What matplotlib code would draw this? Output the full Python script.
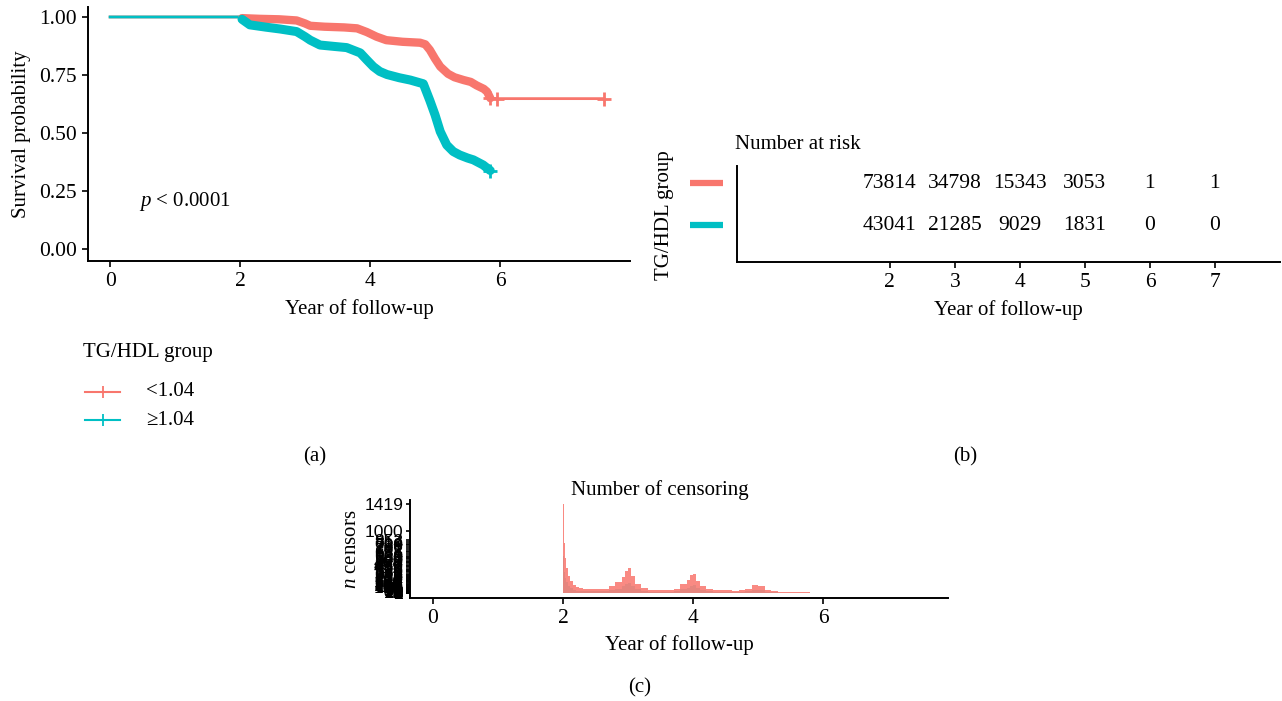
"""
Kaplan-Meier curves by TG/HDL group, number-at-risk table and censoring plot
"""
import numpy as np
import matplotlib
matplotlib.use("Agg")
import matplotlib.pyplot as plt
from matplotlib.lines import Line2D
import matplotlib.transforms as mtransforms

plt.rcParams['font.family'] = ['Liberation Serif', 'DejaVu Serif']
plt.rcParams['mathtext.fontset'] = 'custom'
plt.rcParams['mathtext.rm'] = 'Liberation Serif'
plt.rcParams['mathtext.it'] = 'Liberation Serif:italic'

RED = '#F8766D'
TEAL = '#00BFC4'
FS = 15      # text
FN = 15.5    # numbers

# survival curves
time_red = [0, 2.0, 2.03, 2.3, 2.6, 2.87, 3.0, 3.08, 3.3, 3.6, 3.8, 3.95, 4.1, 4.25, 4.5, 4.77, 4.85, 4.92, 5.0, 5.08, 5.2, 5.3, 5.44, 5.55, 5.64, 5.75, 5.8, 5.85, 5.95, 7.6]
surv_red = [1.0, 1.0, 0.995, 0.992, 0.99, 0.985, 0.972, 0.962, 0.958, 0.955, 0.951, 0.935, 0.915, 0.9, 0.893, 0.889, 0.882, 0.858, 0.82, 0.786, 0.755, 0.74, 0.728, 0.72, 0.705, 0.69, 0.678, 0.65, 0.648, 0.648]
time_teal = [0, 2.0, 2.03, 2.15, 2.4, 2.62, 2.87, 3.0, 3.08, 3.23, 3.45, 3.64, 3.85, 3.95, 4.05, 4.15, 4.26, 4.45, 4.62, 4.82, 4.92, 5.0, 5.08, 5.18, 5.28, 5.38, 5.5, 5.59, 5.74, 5.85]
surv_teal = [1.0, 1.0, 0.99, 0.966, 0.956, 0.948, 0.937, 0.915, 0.9, 0.879, 0.873, 0.868, 0.845, 0.815, 0.786, 0.765, 0.752, 0.738, 0.728, 0.712, 0.64, 0.578, 0.506, 0.448, 0.42, 0.405, 0.392, 0.384, 0.362, 0.338]
red_last_marks_t = [5.85, 5.95, 7.6]
red_last_marks_s = [0.652, 0.648, 0.648]

# number at risk
risk_times = [2, 3, 4, 5, 6, 7]
risk_red = [73814, 34798, 15343, 3053, 1, 1]
risk_teal = [43041, 21285, 9029, 1831, 0, 0]

# censoring counts per time bin
cens_edges = [2.00, 2.01, 2.02, 2.03, 2.05, 2.07, 2.10, 2.15, 2.20, 2.25, 2.30, 2.40, 2.50,
              2.60, 2.70, 2.80, 2.90, 2.95, 3.00, 3.05, 3.10, 3.20, 3.30, 3.40, 3.50, 3.60,
              3.70, 3.80, 3.90, 3.95, 4.00, 4.05, 4.10, 4.20, 4.30, 4.40, 4.50, 4.60, 4.70,
              4.80, 4.90, 5.00, 5.10, 5.20, 5.30, 5.40, 5.50, 5.60, 5.70, 5.80, 5.90]
cens_red = [1419, 1000, 800, 560, 400, 280, 190, 130, 95, 80, 68, 62, 60,
            70, 110, 170, 260, 360, 400, 270, 140, 80, 55, 45, 45, 50,
            70, 140, 210, 290, 310, 200, 120, 70, 50, 45, 45, 40, 45,
            70, 125, 115, 50, 25, 18, 15, 14, 12, 10, 8]
cens_teal = [600, 420, 330, 240, 170, 120, 80, 55, 40, 34, 29, 26, 25,
             30, 46, 72, 110, 150, 165, 110, 60, 34, 23, 19, 19, 21,
             30, 60, 85, 120, 128, 85, 51, 30, 21, 19, 19, 17, 19,
             30, 51, 49, 21, 11, 8, 7, 6, 6, 5, 4]
# y tick values shown on the censoring axis (overlapping in the original)
cens_ticks = [1419, 1000, 852, 814, 790, 768, 731, 702, 671, 655, 624, 600, 583, 560,
              541, 520, 498, 476, 455, 430, 412, 391, 372, 350, 331, 312, 296, 280,
              262, 247, 230, 214, 199, 186, 172, 160, 148, 136, 125, 114, 104, 95,
              86, 78, 70, 62, 55, 48, 42, 36, 31, 26, 22, 18, 15, 12, 9, 7, 5, 3, 2, 1]

fig = plt.figure(figsize=(12.82, 7.01), dpi=100)
W, H = 1282, 701


def box(l, t, r, b):
    return [l / W, 1 - b / H, (r - l) / W, (b - t) / H]


def fx(px):
    return px / W


def fy(py):
    return 1 - py / H


def style(ax):
    for s in ['top', 'right']:
        ax.spines[s].set_visible(False)
    for s in ['left', 'bottom']:
        ax.spines[s].set_linewidth(1.4)
    ax.tick_params(width=1.2, length=4, labelsize=FN, pad=4)


# (a) survival curves
ax1 = fig.add_axes(box(88, 7, 630, 261))
style(ax1)
ax1.plot(time_red, surv_red, color=RED, lw=2)
ax1.plot(time_teal, surv_teal, color=TEAL, lw=2)
ax1.plot(time_red[2:-2], surv_red[2:-2], color=RED, lw=6, solid_capstyle='round')
ax1.plot(time_teal[2:], surv_teal[2:], color=TEAL, lw=6.5, solid_capstyle='round')
ax1.plot(red_last_marks_t, red_last_marks_s, ls='none', marker='+', ms=10, mew=2, color=RED)
ax1.plot([time_teal[-1]], [surv_teal[-1]], ls='none', marker='+', ms=10, mew=2, color=TEAL)
ax1.set_xlim(-0.34, 8.0)
ax1.set_ylim(-0.052, 1.043)
ax1.set_xticks([0, 2, 4, 6])
ax1.set_yticks([0, 0.25, 0.5, 0.75, 1.0])
ax1.set_yticklabels(['0.00', '0.25', '0.50', '0.75', '1.00'])
ax1.set_xlabel('Year of follow-up', fontsize=FS, labelpad=6)
ax1.set_ylabel('Survival probability', fontsize=FS, labelpad=6)
ax1.text(0.45, 0.205, r'$p$ < 0.0001', fontsize=FS, va='center')

# legend of panel (a), laid out by hand
fig.text(fx(83), fy(352), 'TG/HDL group', fontsize=FS, va='center', ha='left')
for py, col, lab in [(392, RED, '<1.04'), (420, TEAL, '\u22651.04')]:
    fig.add_artist(Line2D([fx(85), fx(120)], [fy(py), fy(py)], color=col, lw=1.5))
    fig.add_artist(Line2D([fx(102.5)], [fy(py)], color=col, marker='+', ms=9, mew=1.3))
    fig.text(fx(146), fy(py), lab, fontsize=FS, va='center', ha='left')

# (b) number at risk table
ax2 = fig.add_axes(box(737, 166, 1280, 262))
style(ax2)
for t, r in zip(risk_times, risk_red):
    ax2.text(t, 2, str(r), ha='center', va='center', fontsize=FN)
for t, r in zip(risk_times, risk_teal):
    ax2.text(t, 1, str(r), ha='center', va='center', fontsize=FN)
ax2.set_xlim(-0.35, 8.0)
ax2.set_ylim(0.12, 2.405)
ax2.set_xticks(risk_times)
ax2.set_yticks([])
trans = mtransforms.blended_transform_factory(ax2.transAxes, ax2.transData)
ax2.plot([-0.087, -0.026], [2, 2], color=RED, lw=4.5, transform=trans, clip_on=False,
         solid_capstyle='butt')
ax2.plot([-0.087, -0.026], [1, 1], color=TEAL, lw=4.5, transform=trans, clip_on=False,
         solid_capstyle='butt')
ax2.set_xlabel('Year of follow-up', fontsize=FS, labelpad=6)
ax2.text(-0.003, 1.22, 'Number at risk', transform=ax2.transAxes, fontsize=FS, va='center')
fig.text(fx(665), fy(215), 'TG/HDL group', rotation=90, fontsize=FS, ha='center', va='center')

# (c) number of censoring
ax3 = fig.add_axes(box(410, 500, 948, 598))
style(ax3)
ax3.stairs(cens_teal, cens_edges, fill=True, color=TEAL, alpha=0.5, lw=0)
ax3.stairs(cens_red, cens_edges, fill=True, color=RED, alpha=0.85, lw=0)
ax3.set_xlim(-0.354, 7.92)
ax3.set_ylim(-80, 1490)
ax3.set_xticks([0, 2, 4, 6])
ax3.set_yticks(cens_ticks)
ax3.set_yticklabels([str(v) for v in cens_ticks], family=['Liberation Sans'], fontsize=12.5)
ax3.tick_params(axis='y', pad=2, length=3)
ax3.set_xlabel('Year of follow-up', fontsize=FS, labelpad=5)
ax3.set_ylabel(r'$n$ censors', fontsize=FS, labelpad=2)
ax3.set_title('Number of censoring', fontsize=FS, pad=1, x=0.465)

fig.text(fx(315), fy(457), '(a)', fontsize=FS, ha='center', va='center')
fig.text(fx(965), fy(457), '(b)', fontsize=FS, ha='center', va='center')
fig.text(fx(640), fy(688), '(c)', fontsize=FS, ha='center', va='center')

fig.savefig('out.png', dpi=100)
